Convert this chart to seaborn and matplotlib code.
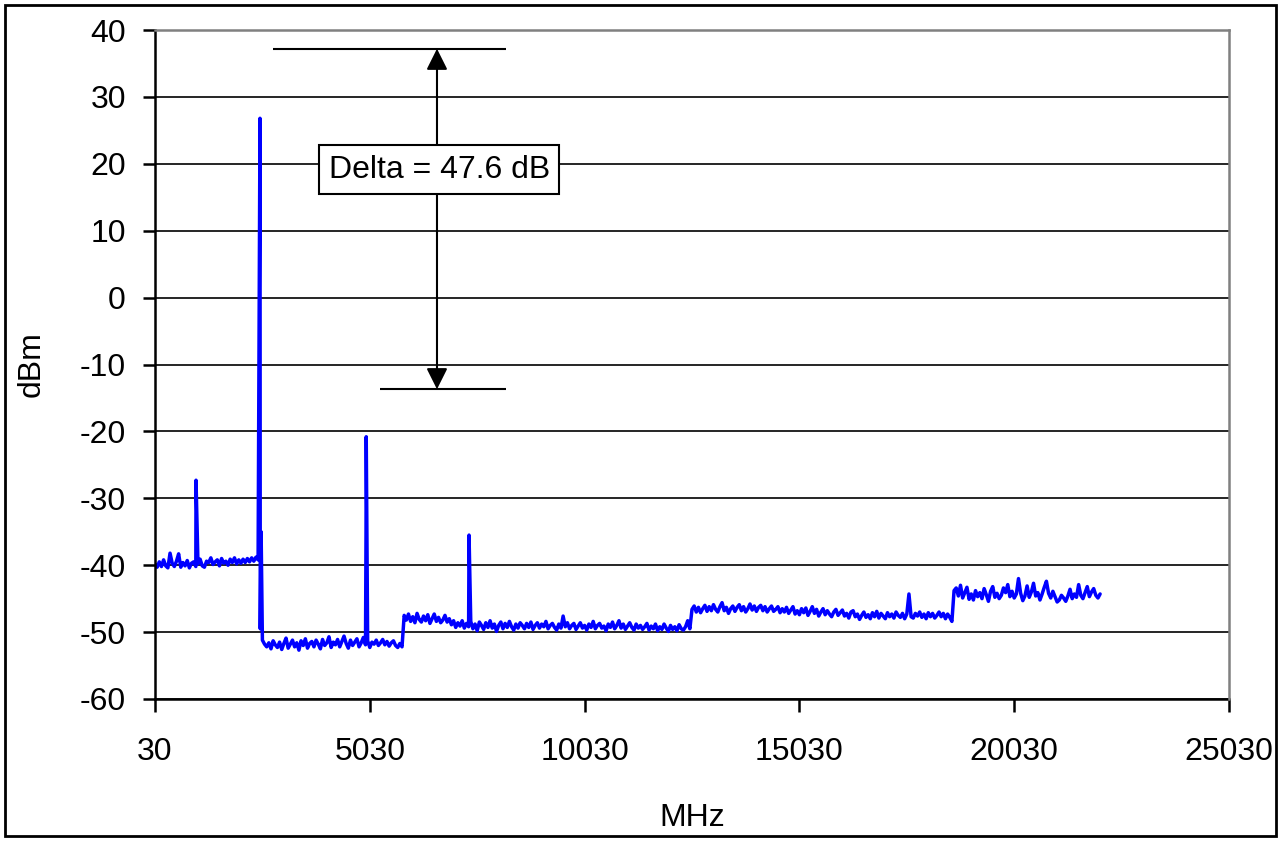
import numpy as np
import pandas as pd
import matplotlib
matplotlib.use("Agg")
from matplotlib import pyplot as plt
from matplotlib.patches import Rectangle
import seaborn as sns

# sweep step of the analyzer trace (MHz)
step = 50

# band 1: 30 .. ~2430 MHz
band1_start = 30
band1_dbm = [-39.8, -40.3, -39.5, -40.2, -39.2, -40.1, -40.4, -38.2, -39.7, -40.2,
             -39.4, -38.3, -40.3, -39.6, -40.1, -39.3, -40.4, -39.7, -39.5, -40.2,
             -39.8, -39.1, -40.1, -40.3, -39.4, -39.6, -38.9, -39.9, -39.5, -39.2,
             -40.1, -39.0, -39.7, -39.4, -40.0, -39.1, -39.6, -38.9, -39.8, -39.2,
             -39.7, -39.1, -39.6, -39.0, -39.5, -38.9, -39.4, -38.8, -39.2]

# band 2: ~2480 .. ~5780 MHz
band2_start = 2480
band2_dbm = [-49.5, -51.2, -51.8, -52.2, -51.6, -52.5, -51.3, -51.9, -52.3, -51.5,
             -52.6, -51.7, -50.9, -52.4, -51.8, -51.2, -52.2, -51.6, -52.7, -51.3,
             -52.0, -51.0, -52.4, -51.7, -51.4, -52.2, -51.2, -51.8, -52.5, -51.1,
             -52.0, -51.6, -50.7, -52.3, -51.5, -51.9, -51.1, -52.2, -51.4, -50.6,
             -51.7, -52.4, -51.2, -52.0, -51.5, -51.0, -52.2, -51.6, -50.8, -51.9,
             -51.3, -52.3, -51.5, -51.8, -51.2, -52.0, -51.6, -51.1, -51.9, -51.4,
             -52.1, -51.6, -51.3, -52.0, -52.3, -51.7, -52.2]

# band 3: ~5830 .. ~12480 MHz
band3_start = 5830
band3_dbm = [-47.5, -48.2, -47.3, -48.4, -47.7, -48.6, -47.2, -48.1, -48.5, -47.6,
             -48.3, -47.4, -48.7, -48.0, -47.3, -48.4, -47.8, -48.6, -48.2, -47.5,
             -48.5, -48.0, -48.9, -48.3, -49.3, -48.6, -49.1, -48.3, -49.4, -48.7,
             -49.2, -48.4, -49.5, -48.8, -49.8, -48.5, -49.0, -49.6, -48.6, -49.3,
             -48.3, -49.4, -48.8, -49.9, -49.0, -48.5, -49.5, -48.7, -49.3, -48.4,
             -49.2, -49.7, -48.8, -49.4, -48.6, -49.0, -49.5, -48.7, -49.3, -48.5,
             -49.6, -49.0, -48.6, -49.4, -48.8, -49.2, -48.4, -49.5, -49.0, -48.7,
             -49.3, -49.7, -48.8, -49.4, -47.6, -49.2, -48.6, -49.5, -49.0, -48.7,
             -49.6, -49.1, -48.6, -49.4, -49.0, -49.7, -48.8, -49.3, -48.4, -49.5,
             -49.0, -48.7, -49.4, -49.1, -49.8, -48.8, -49.3, -48.5, -49.5, -49.0,
             -48.3, -49.4, -48.8, -49.6, -49.1, -48.6, -49.3, -49.7, -48.8, -49.4,
             -49.0, -49.6, -49.2, -48.7, -49.7, -49.1, -49.5, -48.8, -49.8, -49.2,
             -49.6, -48.8, -49.4, -49.9, -49.0, -49.6, -49.2, -49.8, -48.9, -49.5,
             -49.7, -49.2, -48.3, -49.5]

# band 4: ~12530 .. ~18580 MHz
band4_start = 12530
band4_dbm = [-46.6, -46.1, -47.0, -46.3, -47.1, -46.5, -46.0, -46.9, -46.2, -46.8,
             -45.9, -46.6, -47.0, -46.2, -45.6, -46.8, -46.3, -47.2, -46.5, -46.1,
             -46.9, -46.3, -45.9, -46.8, -46.2, -47.0, -46.5, -45.8, -46.7, -46.1,
             -46.9, -46.3, -46.0, -46.8, -46.2, -47.0, -46.5, -46.1, -46.9, -46.6,
             -46.2, -47.1, -46.5, -47.0, -46.3, -47.2, -46.7, -46.2, -47.3, -46.8,
             -47.4, -46.5, -47.1, -46.4, -47.5, -46.9, -46.2, -47.2, -46.6, -47.6,
             -47.0, -46.5, -47.4, -46.8, -47.3, -47.7, -47.0, -46.6, -47.5, -47.1,
             -46.7, -47.6, -47.2, -47.9, -47.0, -46.8, -47.7, -47.3, -48.1, -47.5,
             -47.0, -47.8, -47.4, -48.0, -47.1, -47.7, -46.9, -47.9, -47.2, -47.6,
             -48.0, -47.1, -47.7, -47.3, -47.9, -47.0, -47.5, -47.8, -47.2, -48.0,
             -47.3, -44.3, -47.7, -47.9, -47.2, -47.6, -47.0, -47.8, -47.3, -48.0,
             -47.1, -47.7, -47.2, -47.9, -47.5, -47.0, -47.7, -47.2, -48.0, -47.3,
             -47.8, -48.4]

# band 5: ~18630 .. ~22030 MHz
band5_start = 18630
band5_dbm = [-43.8, -43.4, -44.6, -43.0, -44.9, -44.1, -43.3, -45.1, -44.3, -45.2,
             -43.8, -44.7, -44.1, -45.0, -43.5, -44.4, -45.4, -43.9, -43.2, -44.8,
             -44.2, -45.0, -44.5, -43.4, -44.1, -42.9, -44.7, -43.9, -44.9, -44.3,
             -42.0, -44.2, -45.3, -44.6, -43.1, -44.8, -44.0, -42.7, -44.6, -44.1,
             -45.2, -44.3, -43.3, -42.4, -44.2, -44.9, -43.9, -44.7, -45.5, -45.2,
             -44.5, -44.9, -45.4, -44.6, -43.6, -45.0, -44.3, -44.8, -42.9, -44.5,
             -45.0, -44.1, -43.2, -44.7, -44.0, -43.5, -44.5, -44.9, -44.3]

# narrow spurs / carrier
spur_mhz = [985, 2474, 2500, 4942, 4947, 7340]
spur_dbm = [-27.3, 26.8, -35.0, -35.0, -20.8, -35.5]

# annotation reference levels
ref_top = 37.2
ref_bottom = -13.7
ref_top_span = (2780, 8200)
ref_bottom_span = (5270, 8200)
arrow_mhz = 6594
delta_label = "Delta = 47.6 dB"

x_ticks = [30, 5030, 10030, 15030, 20030, 25030]
y_ticks = list(range(-60, 41, 10))

# build trace
frames = []
for start, vals in [(band1_start, band1_dbm), (band2_start, band2_dbm),
                    (band3_start, band3_dbm), (band4_start, band4_dbm),
                    (band5_start, band5_dbm)]:
    f = start + step * np.arange(len(vals))
    frames.append(pd.DataFrame({"MHz": f, "dBm": vals}))
frames.append(pd.DataFrame({"MHz": spur_mhz, "dBm": spur_dbm}))
df = pd.concat(frames).drop_duplicates("MHz", keep="last").sort_values("MHz").reset_index(drop=True)

sns.set_style("white")
plt.rcParams["font.family"] = ["Liberation Sans", "DejaVu Sans"]
plt.rcParams["axes.unicode_minus"] = False
plt.rcParams["text.color"] = "black"
plt.rcParams["axes.labelcolor"] = "black"
plt.rcParams["xtick.color"] = "black"
plt.rcParams["ytick.color"] = "black"

fig, ax = plt.subplots(figsize=(12.82, 8.41), dpi=100)
fig.subplots_adjust(left=155 / 1282, right=1229 / 1282, bottom=1 - 699 / 841, top=1 - 30 / 841)

sns.lineplot(data=df, x="MHz", y="dBm", estimator=None, sort=False,
             color="#0000FF", lw=2.5, ax=ax)

ax.set_xlim(30, 25030)
ax.set_ylim(-60, 40)
ax.set_xticks(x_ticks)
ax.set_xticklabels([str(t) for t in x_ticks])
ax.set_yticks(y_ticks)
ax.tick_params(axis="both", labelsize=23, direction="out", length=9, width=1.8,
               colors="black", bottom=True, left=True)
ax.tick_params(axis="x", pad=18)
ax.tick_params(axis="y", pad=12)
ax.yaxis.grid(True, color="black", lw=1.2)
ax.set_axisbelow(True)
ax.set_xlabel("MHz", fontsize=23, labelpad=26)
ax.set_ylabel("dBm", fontsize=23, labelpad=24)

for side in ["left", "bottom"]:
    ax.spines[side].set_color("black")
    ax.spines[side].set_linewidth(1.8)
for side in ["top", "right"]:
    ax.spines[side].set_color("#808080")
    ax.spines[side].set_linewidth(1.8)
    ax.spines[side].set_zorder(3)

# delta annotation
ax.hlines(ref_top, *ref_top_span, color="black", lw=1.5, zorder=4)
ax.hlines(ref_bottom, *ref_bottom_span, color="black", lw=1.5, zorder=4)
ax.annotate("", xy=(arrow_mhz, ref_top), xytext=(arrow_mhz, ref_bottom),
            arrowprops=dict(arrowstyle="<|-|>", mutation_scale=32, color="black",
                            lw=1.5, shrinkA=0, shrinkB=0), zorder=4)
ax.text(arrow_mhz + 50, 19.1, delta_label, fontsize=23, ha="center", va="center", zorder=5,
        bbox=dict(boxstyle="square,pad=0.3", fc="white", ec="black", lw=1.5))

# chart outer border
fig.patches.append(Rectangle((5 / 1282, 5 / 841), 1271 / 1282, 831 / 841,
                             transform=fig.transFigure, fill=False, ec="black", lw=2))

fig.savefig("out.png", dpi=100)
